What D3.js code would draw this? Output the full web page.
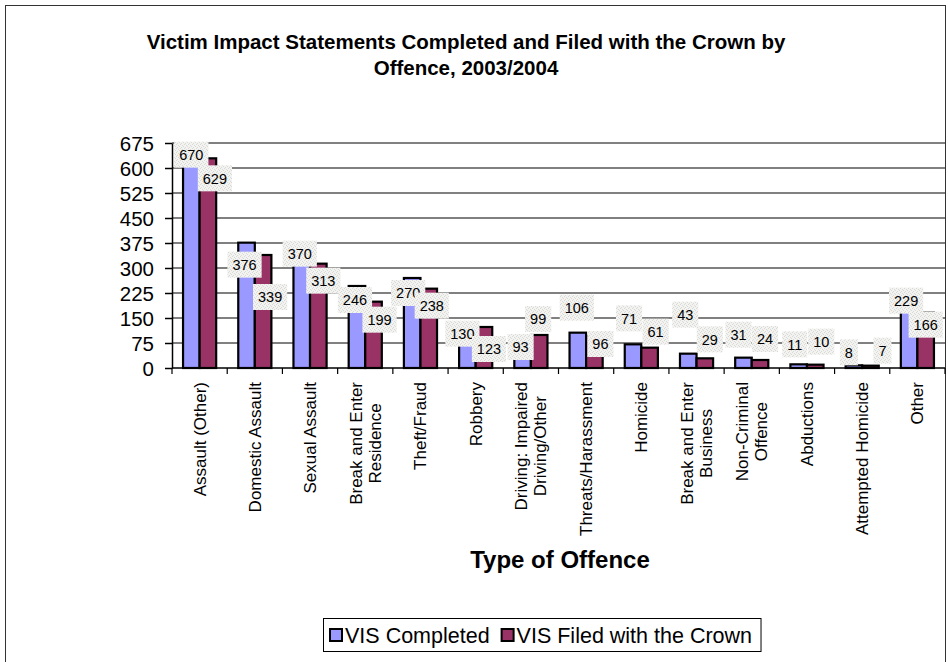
<!DOCTYPE html>
<html>
<head>
<meta charset="utf-8">
<script src="https://cdn.jsdelivr.net/npm/d3@7"></script>
<style>
  html, body { margin: 0; padding: 0; background: #fff; }
  svg { display: block; font-family: Arial, "Liberation Sans", sans-serif; }
</style>
</head>
<body>
<svg id="chart" width="948" height="662"></svg>
<script>
// Offence categories ("\n" marks a line break in the axis label)
const categories = [
  "Assault (Other)", "Domestic Assault", "Sexual Assault", "Break and Enter\nResidence",
  "Theft/Fraud", "Robbery", "Driving: Impaired\nDriving/Other", "Threats/Harassment",
  "Homicide", "Break and Enter\nBusiness", "Non-Criminal\nOffence", "Abductions",
  "Attempted Homicide", "Other"
];
const seriesNames = ["VIS Completed", "VIS Filed with the Crown"];
const visCompleted = [670, 376, 370, 246, 270, 130, 93, 106, 71, 43, 31, 11, 8, 229];
const visFiled     = [629, 339, 313, 199, 238, 123, 99, 96, 61, 29, 24, 10, 7, 166];
const yTicks = [0, 75, 150, 225, 300, 375, 450, 525, 600, 675];

// Hand-placed data label nudges (px, relative to the bar's top centre)
const completedLabelDx = [0, -2, -2, -2, -4, -5, -2, -1, -4, -3, -5, -4, -5, -3];
const completedLabelDy = [10, 22, 9, 14, 15, 9, 10, -25, -26, -39, -23, -20, -13, 9];
const filedLabelDx = [7, 7, 5, 6, 3, 5, -1, 6, 6, 5, 5, 6, 12, 0];
const filedLabelDy = [20, 42, 17, 18, 17, 22, -16, 8, -16, -19, -21, -23, -15, 12];

const colors = ["#9999ff", "#993366"];

const svg = d3.select("#chart");

// chart frame
svg.append("rect")
  .attr("x", 5.5).attr("y", 5.5).attr("width", 940).attr("height", 700)
  .attr("fill", "#fff").attr("stroke", "#333").attr("stroke-width", 1);

// grainy fill used behind the data labels
const defs = svg.append("defs");
const pat = defs.append("pattern").attr("id", "grain")
  .attr("width", 4).attr("height", 4).attr("patternUnits", "userSpaceOnUse");
pat.append("rect").attr("width", 4).attr("height", 4).attr("fill", "#f3f3f1");
[[0, 0], [2, 1], [1, 3], [3, 2]].forEach(([px, py]) =>
  pat.append("rect").attr("x", px).attr("y", py).attr("width", 1).attr("height", 1).attr("fill", "#d9d9d6"));

// title
const title = svg.append("text")
  .attr("text-anchor", "middle").attr("font-weight", "bold").attr("font-size", 20.5)
  .attr("fill", "#000");
title.append("tspan").attr("x", 466).attr("y", 49)
  .text("Victim Impact Statements Completed and Filed with the Crown by");
title.append("tspan").attr("x", 466).attr("y", 75).text("Offence, 2003/2004");

const plot = { left: 172, right: 945, top: 143, bottom: 368 };

const x0 = d3.scaleBand().domain(categories).range([plot.left, plot.right]).padding(0);
const bw = x0.bandwidth();
const x1 = d3.scaleBand().domain(seriesNames).range([bw * 0.2, bw * 0.8]).padding(0);
const y = d3.scaleLinear().domain([0, 675]).range([plot.bottom, plot.top]);

// horizontal gridlines
svg.append("g").selectAll("line").data(yTicks.filter(t => t > 0)).join("line")
  .attr("x1", plot.left).attr("x2", plot.right)
  .attr("y1", d => y(d)).attr("y2", d => y(d))
  .attr("stroke", "#808080").attr("stroke-width", 1.8);

// y axis
const yAxis = svg.append("g")
  .attr("transform", `translate(${plot.left},0)`)
  .call(d3.axisLeft(y).tickValues(yTicks).tickSize(7).tickPadding(11).tickSizeOuter(0));
yAxis.select(".domain").attr("stroke", "#000").attr("stroke-width", 1.5);
yAxis.selectAll(".tick line").attr("stroke", "#000").attr("stroke-width", 1.5);
yAxis.selectAll(".tick text").attr("font-size", 20.5).attr("font-family", "Arial, 'Liberation Sans', sans-serif")
  .attr("fill", "#000").attr("dy", "0.36em");

// bars
const rows = categories.map((c, i) => ({ cat: c, i, vals: [visCompleted[i], visFiled[i]] }));
const groups = svg.append("g").selectAll("g").data(rows).join("g")
  .attr("transform", d => `translate(${x0(d.cat)},0)`);
groups.selectAll("rect").data(d => d.vals.map((v, s) => ({ v, s }))).join("rect")
  .attr("x", d => x1(seriesNames[d.s]))
  .attr("width", x1.bandwidth())
  .attr("y", d => y(d.v))
  .attr("height", d => y(0) - y(d.v))
  .attr("fill", d => colors[d.s])
  .attr("stroke", "#000").attr("stroke-width", 2.2);

// x axis line and category ticks
svg.append("line")
  .attr("x1", plot.left).attr("x2", plot.right).attr("y1", plot.bottom).attr("y2", plot.bottom)
  .attr("stroke", "#000").attr("stroke-width", 1.5);
const bounds = categories.map(c => x0(c)).concat([plot.right]);
svg.append("g").selectAll("line").data(bounds).join("line")
  .attr("x1", d => d).attr("x2", d => d)
  .attr("y1", plot.bottom).attr("y2", plot.bottom + 6)
  .attr("stroke", "#000").attr("stroke-width", 1.2);

// rotated category labels
const xLabelTop = 382;
const lineGap = 19;
categories.forEach(c => {
  const lines = c.split("\n");
  const g = svg.append("g");
  const cx = x0(c) + bw / 2;
  const texts = lines.map(ln => g.append("text")
    .attr("font-size", 17).attr("fill", "#000").attr("text-anchor", "middle")
    .text(ln));
  const longest = d3.max(texts, t => t.node().getComputedTextLength());
  const mid = xLabelTop + longest / 2;
  texts.forEach((t, k) => {
    const off = (k - (lines.length - 1) / 2) * lineGap;
    t.attr("transform", `translate(${cx + off},${mid}) rotate(-90)`).attr("dy", "0.35em");
  });
});

// data labels
const labelLayer = svg.append("g");
rows.forEach(r => {
  r.vals.forEach((v, s) => {
    const dx = s === 0 ? completedLabelDx[r.i] : filedLabelDx[r.i];
    const dy = s === 0 ? completedLabelDy[r.i] : filedLabelDy[r.i];
    const cx = x0(r.cat) + x1(seriesNames[s]) + x1.bandwidth() / 2 + dx;
    const cy = y(v) + dy;
    const g = labelLayer.append("g");
    const box = g.append("rect").attr("fill", "url(#grain)");
    const t = g.append("text").attr("x", cx).attr("y", cy).attr("dy", "0.36em")
      .attr("text-anchor", "middle").attr("font-size", 14.5).attr("fill", "#000").text(v);
    const w = t.node().getComputedTextLength() + 10;
    box.attr("x", cx - w / 2).attr("y", cy - 13).attr("width", w).attr("height", 26);
  });
});

// axis title
svg.append("text").attr("x", 560).attr("y", 568).attr("text-anchor", "middle")
  .attr("font-weight", "bold").attr("font-size", 24).attr("fill", "#000")
  .text("Type of Offence");

// legend
const legend = svg.append("g");
const legBox = legend.append("rect").attr("fill", "#fff").attr("stroke", "#000").attr("stroke-width", 1);
let lx = 330;
const legY = 635;
seriesNames.forEach((name, s) => {
  legend.append("rect").attr("x", lx).attr("y", legY - 6).attr("width", 12).attr("height", 12)
    .attr("fill", colors[s]).attr("stroke", "#000").attr("stroke-width", 2);
  const t = legend.append("text").attr("x", lx + 15).attr("y", legY).attr("dy", "0.36em")
    .attr("font-size", 21.5).attr("fill", "#000").text(name);
  lx += 15 + t.node().getComputedTextLength() + 12;
});
legBox.attr("x", 323.5).attr("y", 618.5).attr("width", lx - 12 + 9 - 323.5).attr("height", 33);
</script>
</body>
</html>
